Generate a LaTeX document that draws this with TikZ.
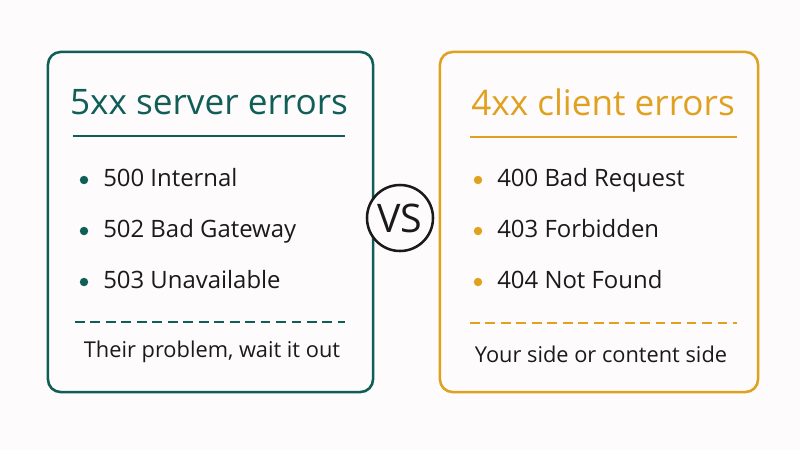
\documentclass[tikz,border=0pt]{standalone}
\usepackage{fontspec}
\setmainfont{Open Sans}
\usepackage{xcolor}
\usepackage{tikz}
\usetikzlibrary{positioning,calc}

\definecolor{srvteal}{HTML}{0F5E57}
\definecolor{cliorange}{HTML}{E0A020}
\definecolor{paper}{HTML}{FDFBFB}
\definecolor{ink}{HTML}{1A1A1A}

\tikzset{
  panel/.style={draw=#1, line width=1.8pt, rounded corners=9pt, inner sep=0pt, minimum height=8.5cm},
  title/.style={text=#1, font=\fontsize{25}{28}\selectfont},
  item/.style={anchor=west, text=ink, font=\fontsize{17}{20}\selectfont, inner sep=0pt,
               text height=1.45ex, text depth=0pt},
  footer/.style={text=ink, font=\fontsize{15.5}{18}\selectfont, inner sep=0pt},
  bullet/.style={fill=#1, circle, inner sep=0pt, minimum size=6pt},
}

\begin{document}
\begin{tikzpicture}[x=0.025cm, y=-0.025cm]

% Background
\fill[paper] (0, 0) rectangle (800, 450);

% Panels
\node[panel=srvteal, minimum width=8.125cm] (server) at (210.5, 222) {};
\node[panel=cliorange, minimum width=7.95cm] (client) at (599, 222) {};

% Titles and rules
\node[title=srvteal] (srvtitle) at (209, 102) {5xx server errors};
\node[title=cliorange] (clititle) at (603, 102) {4xx client errors};
\draw[srvteal, line width=1.6pt] (73, 136) coordinate (srvruleA) -- (345, 136) coordinate (srvruleB);
\draw[cliorange, line width=1.6pt] (470, 137) coordinate (cliruleA) -- (737, 137) coordinate (cliruleB);

% Items
\foreach \i/\y/\lab in {1/180/500 Internal, 2/231/502 Bad Gateway, 3/282/503 Unavailable} {
    \node[bullet=srvteal] (srvdot\i) at (84, \y) {};
    \node[item] (srvitem\i) at (103, \y + 1) {\lab};
}
\foreach \i/\y/\lab in {1/180/400 Bad Request, 2/231/403 Forbidden, 3/282/404 Not Found} {
    \node[bullet=cliorange] (clidot\i) at (478, \y) {};
    \node[item] (cliitem\i) at (497, \y + 1) {\lab};
}

% Dashed separators
\draw[srvteal, line width=1.4pt, dash pattern=on 7pt off 4pt] (75, 322) -- (345, 322);
\draw[cliorange, line width=1.4pt, dash pattern=on 7pt off 4pt] (470, 323) -- (737, 323);

% Footers
\node[footer] (srvnote) at (212, 352) {Their problem, wait it out};
\node[footer] (clinote) at (601, 354) {Your side or content side};

% Versus badge
\node[circle, draw=ink, line width=1.8pt, fill=paper, minimum size=1.65cm, inner sep=0pt,
      font=\fontsize{28}{32}\selectfont, text=ink] (vs) at (400, 218) {VS};

\end{tikzpicture}
\end{document}
